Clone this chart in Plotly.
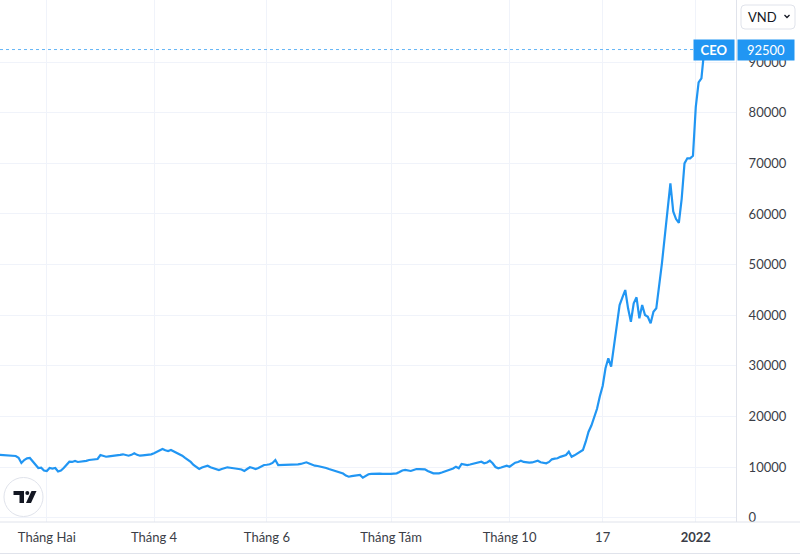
import pandas as pd
import plotly.graph_objects as go

# ---- data (CEO closing price, VND) ----
holidays = ["2021-01-01", "2021-02-10", "2021-02-11", "2021-02-12", "2021-02-15",
            "2021-02-16", "2021-04-21", "2021-04-30", "2021-05-03", "2021-09-02",
            "2021-09-03", "2022-01-03"]

jan21 = [12400, 12370, 12300, 12250, 12300, 12200, 12170, 11840, 10790, 11380, 11700,
         11780, 11180, 10400, 9800, 9860, 9300]
feb21 = [9200, 9800, 9700, 9800, 9100, 9300, 9800, 10500, 11050, 11000, 11180, 10990,
         11050, 11050, 11200]
mar21 = [11380, 11450, 11500, 11580, 12370, 12200, 12030, 12100, 12150, 12230, 12300,
         12400, 12510, 12400, 12230, 12400, 12710, 12400, 12230, 12300, 12350, 12370, 12500]
apr21 = [12710, 13000, 13300, 13560, 13300, 13160, 13360, 13100, 12710, 12500, 12230,
         11800, 11380, 11000, 10390, 10000, 9600, 9900, 10150, 10260]
may21 = [9940, 9800, 9600, 9410, 9600, 9800, 9940, 9850, 9800, 9740, 9600, 9500, 9210,
         9600, 9940, 9800, 9600, 9800, 10100, 10390]
jun21 = [10450, 10530, 10800, 11380, 10390, 10400, 10450, 10400, 10390, 10450, 10500,
         10530, 10600, 10750, 10930, 10700, 10400, 10260, 10200, 10100, 9940, 9800]
jul21 = [9600, 9410, 9300, 9150, 8950, 8700, 8300, 8080, 8200, 8280, 8350, 8420, 7880,
         8200, 8560, 8650, 8700, 8750, 8700, 8650, 8600, 8560]
aug21 = [8650, 8700, 8750, 9000, 9300, 9410, 9300, 9210, 9400, 9600, 9580, 9560, 9540,
         9200, 8900, 8750, 8750, 8750, 8900, 9100, 9300, 9410]
sep21 = [9700, 10060, 9740, 10590, 10450, 10390, 10500, 10650, 10730, 10900, 11050,
         10730, 10900, 11240, 10730, 10000, 9740, 9900, 10060, 10260]
oct21 = [10060, 10400, 10850, 11000, 11240, 11000, 10850, 10850, 10900, 11100, 11240,
         10930, 10850, 10730, 11000, 11520, 11650, 11720, 12000, 12170, 12370]
nov21 = [13020, 12030, 12300, 12710, 13000, 13360, 15000, 16970, 18200, 19700, 21500,
         24000, 26000, 29500, 31480, 29820, 33770, 37720, 42000, 43500, 44970, 41360]
dec21 = [38710, 42350, 43530, 39380, 42010, 40030, 39700, 38390, 40690, 41360, 45310,
         50250, 55510, 60500, 66060, 60500, 59000, 58270, 63000, 70010, 71000, 71000, 71500]
jan22 = [81190, 86000, 86800, 92500]

prices = jan21 + feb21 + mar21 + apr21 + may21 + jun21 + jul21 + aug21 + sep21 + oct21 + nov21 + dec21 + jan22
dates = pd.bdate_range("2021-01-07", "2022-01-07", freq="C", holidays=holidays)
dates = [d.strftime("%Y-%m-%d") for d in dates]
n = min(len(dates), len(prices))
dates, prices = dates[:n], prices[:n]

last_price = prices[-1]
symbol = "CEO"
currency = "VND"

x_tickvals = ["2021-02-01", "2021-04-01", "2021-06-01", "2021-08-02", "2021-10-01",
              "2021-11-17", "2022-01-04"]
x_ticktext = ["Tháng Hai", "Tháng 4", "Tháng 6", "Tháng Tám", "Tháng 10", "17", "<b>2022</b>"]
y_tickvals = [0, 10000, 20000, 30000, 40000, 50000, 60000, 70000, 80000, 90000]
y_ticktext = [str(v) for v in y_tickvals]

# ---- figure ----
W, H = 800, 555
ML, MR, MT, MB = 0, 64, 0, 33
PW, PH = W - ML - MR, H - MT - MB
BLUE = "#2196f3"
GRID = "#f0f3fa"
AXIS = "#e0e3eb"
TXT = "#3b3e47"
FONT = "Lato"


def px(x):
    return (x - ML) / PW


def py(y):
    return 1 - (y - MT) / PH


fig = go.Figure()
fig.add_trace(go.Scatter(x=dates, y=prices, mode="lines",
                         line=dict(color=BLUE, width=2.2), hoverinfo="skip",
                         showlegend=False))

shapes = []
# dotted last-price line
shapes.append(dict(type="line", xref="paper", yref="y", x0=0, x1=px(695),
                   y0=last_price, y1=last_price,
                   line=dict(color="#64b5f6", width=1, dash="dot"), layer="above"))
# bottom full-width lines
shapes.append(dict(type="line", xref="paper", yref="paper", x0=0, x1=px(800),
                   y0=0, y1=0, line=dict(color=AXIS, width=1)))
shapes.append(dict(type="line", xref="paper", yref="paper", x0=0, x1=px(800),
                   y0=py(553.5), y1=py(553.5), line=dict(color=AXIS, width=1)))

# VND button (rounded rect)
x0, x1, y0, y1, r = 741, 795, 5, 29, 4
rx, ry = r / PW, r / PH
path = (f"M{px(x0)+rx},{py(y0)} L{px(x1)-rx},{py(y0)} Q{px(x1)},{py(y0)} {px(x1)},{py(y0)-ry} "
        f"L{px(x1)},{py(y1)+ry} Q{px(x1)},{py(y1)} {px(x1)-rx},{py(y1)} "
        f"L{px(x0)+rx},{py(y1)} Q{px(x0)},{py(y1)} {px(x0)},{py(y1)+ry} "
        f"L{px(x0)},{py(y0)-ry} Q{px(x0)},{py(y0)} {px(x0)+rx},{py(y0)} Z")
shapes.append(dict(type="path", xref="paper", yref="paper", path=path,
                   fillcolor="white", line=dict(color=AXIS, width=1)))
# chevron
shapes.append(dict(type="path", xref="paper", yref="paper",
                   path=f"M{px(784.5)},{py(15)} L{px(787)},{py(17.5)} L{px(789.5)},{py(15)}",
                   line=dict(color="#131722", width=1.3)))

# TradingView logo
shapes.append(dict(type="circle", xref="paper", yref="paper",
                   x0=px(4), x1=px(43), y0=py(516.5), y1=py(477.5),
                   fillcolor="white", line=dict(color=AXIS, width=1)))
shapes.append(dict(type="path", xref="paper", yref="paper",
                   path=(f"M{px(13.5)},{py(491)} L{px(24)},{py(491)} L{px(24)},{py(503)} "
                         f"L{px(19.5)},{py(503)} L{px(19.5)},{py(495)} L{px(13.5)},{py(495)} Z"),
                   fillcolor="#131722", line=dict(width=0)))
shapes.append(dict(type="circle", xref="paper", yref="paper",
                   x0=px(25.3), x1=px(29.3), y0=py(495), y1=py(491),
                   fillcolor="#131722", line=dict(width=0)))
shapes.append(dict(type="path", xref="paper", yref="paper",
                   path=(f"M{px(31.5)},{py(491)} L{px(36.5)},{py(491)} L{px(31)},{py(503)} "
                         f"L{px(26)},{py(503)} Z"),
                   fillcolor="#131722", line=dict(width=0)))

annotations = [
    dict(xref="paper", yref="y", x=px(735), y=last_price, xanchor="right", yanchor="middle",
         text=f"<b>{symbol}</b>", showarrow=False, bgcolor=BLUE, borderpad=2, width=36,
         align="center", font=dict(family=FONT, size=13, color="white")),
    dict(xref="paper", yref="y", x=px(737), y=last_price, xanchor="left", yanchor="middle",
         text=str(last_price), showarrow=False, bgcolor=BLUE, borderpad=2, width=52,
         align="center", font=dict(family=FONT, size=13, color="white")),
    dict(xref="paper", yref="paper", x=px(763), y=py(17), xanchor="center", yanchor="middle",
         text=currency, showarrow=False, font=dict(family=FONT, size=13, color="#131722")),
]

fig.update_layout(
    width=W, height=H,
    margin=dict(l=ML, r=MR, t=MT, b=MB, autoexpand=False),
    paper_bgcolor="white", plot_bgcolor="white",
    font=dict(family=FONT, size=13, color=TXT),
    shapes=shapes, annotations=annotations,
    showlegend=False,
    xaxis=dict(
        type="date",
        range=["2021-01-07 10:00", "2022-01-24 06:00"],
        rangebreaks=[dict(bounds=["sat", "mon"]), dict(values=holidays)],
        tickmode="array", tickvals=x_tickvals, ticktext=x_ticktext,
        showgrid=True, gridcolor=GRID, gridwidth=1,
        showline=False, zeroline=False, ticks="", ticklabelstandoff=6,
        tickfont=dict(family=FONT, size=13, color=TXT),
    ),
    yaxis=dict(
        side="right",
        range=[-870, 102290],
        tickmode="array", tickvals=y_tickvals, ticktext=y_ticktext,
        showgrid=True, gridcolor=GRID, gridwidth=1,
        showline=True, linecolor=AXIS, linewidth=1, mirror=False,
        zeroline=False, ticks="", ticklabelstandoff=9,
        tickfont=dict(family=FONT, size=13, color=TXT),
    ),
)

fig.write_html("out.html", config={"displayModeBar": False},
               post_script="document.body.style.margin='0';document.body.style.padding='0';")
